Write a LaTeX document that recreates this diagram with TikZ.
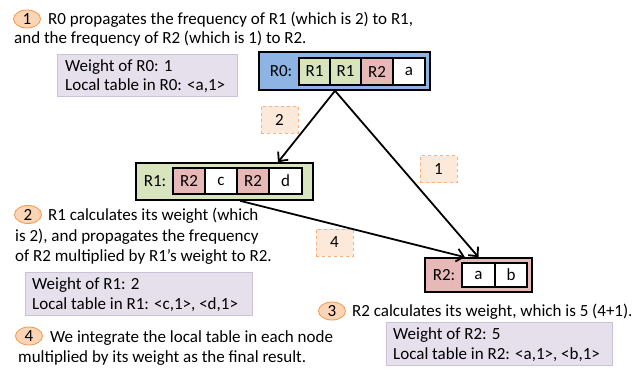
\documentclass[tikz,border=0pt]{standalone}
\usepackage{fontspec}
\setmainfont{Carlito}
\usetikzlibrary{arrows.meta,shapes.geometric}
\definecolor{bluefill}{RGB}{142,180,227}
\definecolor{greenfill}{RGB}{215,228,189}
\definecolor{pinkfill}{RGB}{230,185,184}
\definecolor{lavfill}{RGB}{229,224,236}
\definecolor{lavline}{RGB}{204,193,218}
\definecolor{orfill}{RGB}{251,213,181}
\definecolor{orline}{RGB}{247,150,70}
\definecolor{labfill}{RGB}{253,233,217}
\definecolor{labline}{RGB}{250,176,120}
\newcommand{\fs}{\fontsize{17}{19}\selectfont}
\tikzset{
  txt/.style={font=\fs, inner sep=0pt, anchor=base west},
  outer/.style={draw=black, line width=1.6pt, inner sep=0pt},
  cell/.style={draw=black, line width=1.3pt, inner sep=0pt, minimum height=#1, font=\fs},
  cell/.default=26,
  info/.style={draw=lavline, fill=lavfill, line width=1pt, inner sep=0pt},
  stepnum/.style={ellipse, draw=orline, fill=orfill, line width=0.8pt, minimum width=27, minimum height=18, inner sep=0pt, font=\fs},
  edgelab/.style={draw=labline, dashed, fill=labfill, line width=1pt, minimum width=37, minimum height=27, inner sep=0pt, font=\fs},
  arr/.style={line width=1.8pt, -{Straight Barb[length=7pt,width=13pt,line width=1.8pt]}}
}
\begin{document}
\begin{tikzpicture}[x=1pt,y=-1pt]
\useasboundingbox (0,0) rectangle (644,371);

% step 1
\node[stepnum] (s1) at (27,19) {1};
\node[txt] (t1a) at (48,24.5) {R0 propagates the frequency of R1 (which is 2) to R1,};
\node[txt] (t1b) at (14,43.5) {and the frequency of R2 (which is 1) to R2.};
\node[info, minimum width=180, minimum height=42] (i0) at (147,76) {};
\node[txt] (i0a) at (65,72) {Weight of R0: 1};
\node[txt] (i0b) at (65,91) {Local table in R0: <a,1>};

% R0 node
\node[outer, fill=bluefill, minimum width=171, minimum height=38] (r0) at (344.5,71) {};
\node[font=\fs, inner sep=0pt] (r0l) at (281,71.5) {R0:};
\node[cell=27, fill=greenfill, minimum width=31] (r0c1) at (314.5,71.5) {R1};
\node[cell=27, fill=greenfill, minimum width=31] (r0c2) at (345.5,71.5) {R1};
\node[cell=27, fill=pinkfill, minimum width=32] (r0c3) at (377,71.5) {R2};
\node[cell=27, fill=white, minimum width=32] (r0c4) at (409,71.5) {a};

% R1 node
\node[outer, fill=greenfill, minimum width=177, minimum height=37] (r1) at (224.5,181.5) {};
\node[font=\fs, inner sep=0pt] (r1l) at (155,181.5) {R1:};
\node[cell, fill=pinkfill, minimum width=32] (r1c1) at (189,181) {R2};
\node[cell, fill=white, minimum width=32] (r1c2) at (221,181) {c};
\node[cell, fill=pinkfill, minimum width=32] (r1c3) at (253,181) {R2};
\node[cell, fill=white, minimum width=33] (r1c4) at (285.5,181) {d};

% R2 node
\node[outer, fill=pinkfill, minimum width=107, minimum height=34] (r2) at (478.5,275) {};
\node[font=\fs, inner sep=0pt] (r2l) at (444,275.5) {R2:};
\node[cell=24, fill=white, minimum width=33] (r2c1) at (478.5,275) {a};
\node[cell=24, fill=white, minimum width=32] (r2c2) at (511,275) {b};

% edge labels
\node[edgelab] (e2) at (279.5,120) {2};
\node[edgelab] (e1) at (438.5,169.5) {1};
\node[edgelab] (e4) at (334.5,242.5) {4};

% arrows
\draw[arr] ([xshift=-9.5]r0.south) -- ([xshift=53.5]r1.north);
\draw[arr] ([xshift=-9.5]r0.south) -- ([xshift=0]r2.north);
\draw[arr] ([xshift=15.5]r1.south) -- ([xshift=-13.5]r2.north);

% step 2
\node[stepnum] (s2) at (28,214.5) {2};
\node[txt] (t2a) at (48,220) {R1 calculates its weight (which};
\node[txt] (t2b) at (15,241) {is 2), and propagates the frequency};
\node[txt] (t2c) at (15,261) {of R2 multiplied by R1’s weight to R2.};
\node[info, minimum width=227, minimum height=43] (i1) at (138.5,293.5) {};
\node[txt] (i1a) at (32,289) {Weight of R1: 2};
\node[txt] (i1b) at (32,309) {Local table in R1: <c,1>, <d,1>};

% step 3
\node[stepnum] (s3) at (332,311) {3};
\node[txt] (t3) at (352,316) {R2 calculates its weight, which is 5 (4+1).};
\node[info, minimum width=226, minimum height=43] (i2) at (499,343.5) {};
\node[txt] (i2a) at (393,339) {Weight of R2: 5};
\node[txt] (i2b) at (393,359) {Local table in R2: <a,1>, <b,1>};

% step 4
\node[stepnum] (s4) at (29,336) {4};
\node[txt] (t4a) at (50,342) {We integrate the local table in each node};
\node[txt] (t4b) at (18,362) {multiplied by its weight as the final result.};
\end{tikzpicture}
\end{document}
